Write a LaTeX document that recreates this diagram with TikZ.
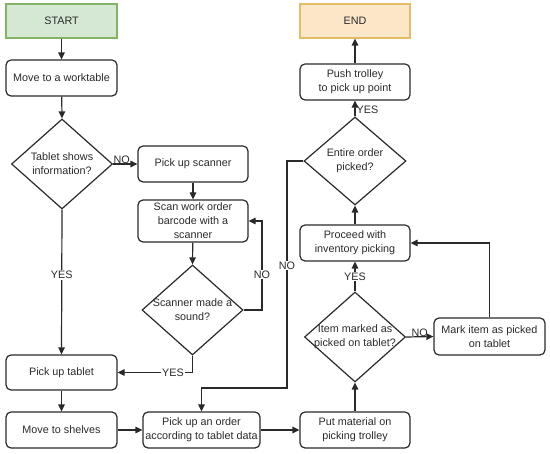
\documentclass[tikz,border=0pt]{standalone}
\usepackage{fontspec}
\setmainfont{Liberation Sans}
\usetikzlibrary{arrows.meta,shapes.geometric}
\definecolor{ln}{HTML}{2A2A2A}
\definecolor{startfill}{HTML}{D5E8D4}
\definecolor{startdraw}{HTML}{82B366}
\definecolor{endfill}{HTML}{FCE6C8}
\definecolor{enddraw}{HTML}{E2BC66}
\tikzset{
  box/.style={draw=ln, line width=1.2pt, rounded corners=5pt, align=center, inner sep=1pt, text=ln},
  term/.style={draw, line width=1.2pt, align=center, inner sep=1pt, text=ln},
  dia/.style={draw=ln, line width=1.2pt, shape=diamond, inner sep=0pt},
  dtext/.style={align=center, inner sep=0pt, text=ln},
  arr/.style={draw=ln, line width=1.2pt, -{Triangle[length=7pt,width=6.5pt]}},
  lbl/.style={fill=white, inner sep=1pt, text=ln},
}
\begin{document}
\begin{tikzpicture}[x=1pt,y=-1pt,font=\fontsize{10.8}{14}\selectfont]
\useasboundingbox (0,0) rectangle (550,454);
% terminals
\node[term, draw=startdraw, fill=startfill, minimum width=111pt, minimum height=34pt] (start) at (61.5,21) {START};
\node[term, draw=enddraw, fill=endfill, minimum width=110pt, minimum height=34pt] (end) at (355,21) {END};
% boxes
\node[box, minimum width=111pt, minimum height=36pt] (move) at (61.5,78) {Move to a worktable};
\node[box, minimum width=110pt, minimum height=36pt] (scanner) at (193,164) {Pick up scanner};
\node[box, minimum width=110pt, minimum height=42pt] (scan) at (193,221) {Scan work order\\barcode with a\\scanner};
\node[box, minimum width=111pt, minimum height=35pt] (tablet) at (61.5,372.5) {Pick up tablet};
\node[box, minimum width=111pt, minimum height=36pt] (shelves) at (61.5,430) {Move to shelves};
\node[box, minimum width=117pt, minimum height=36pt] (order) at (201.5,430) {Pick up an order\\according to tablet data};
\node[box, minimum width=110pt, minimum height=36pt] (put) at (355,430) {Put material on\\picking trolley};
\node[box, minimum width=111pt, minimum height=37pt] (mark) at (489.5,336.5) {Mark item as picked\\on tablet};
\node[box, minimum width=110pt, minimum height=36pt] (proceed) at (355,243) {Proceed with\\inventory picking};
\node[box, minimum width=110pt, minimum height=36pt] (push) at (355,82) {Push trolley\\to pick up point};
% diamonds
\node[dia, minimum width=101pt, minimum height=90pt] (d1) at (62,164) {};
\node[dtext] (d1t) at (d1.center) {Tablet shows\\information?};
\node[dia, minimum width=101pt, minimum height=90pt] (d2) at (192.5,310) {};
\node[dtext] (d2t) at (d2.center) {Scanner made a\\sound?};
\node[dia, minimum width=101pt, minimum height=90pt] (d3) at (355,337) {};
\node[dtext] (d3t) at (d3.center) {Item marked as\\picked on tablet?};
\node[dia, minimum width=102pt, minimum height=88pt] (d4) at (355,161) {};
\node[dtext] (d4t) at (d4.center) {Entire order\\picked?};
% coordinates
\coordinate (c2) at (262,310);
\coordinate (c4) at (287,388);
% connectors
\draw[arr] (start) -- (move);
\draw[arr] (move) -- (d1.north);
\draw[arr] (d1.east) -- node[pos=0.35, above=-1pt, text=ln, inner sep=1pt] (l1) {NO} (scanner.west);
\draw[arr] (d1.south) -- node[lbl, pos=0.45] (l2) {YES} (tablet.north);
\draw[arr] (scanner) -- (scan);
\draw[arr] (scan) -- (d2.north);
\draw[arr] (d2.east) -- (c2) |- node[lbl, pos=0.2] (l3) {NO} (scan.east);
\draw[arr] (d2.south) |- node[lbl, pos=0.63] (l4) {YES} (tablet.east);
\draw[arr] (tablet) -- (shelves);
\draw[arr] (shelves) -- (order);
\draw[arr] (order) -- (put);
\draw[arr] (put) -- (d3.south);
\draw[arr] (d3.north) -- node[lbl, pos=0.5] (l5) {YES} (proceed.south);
\draw[arr] (d3.east) -- node[pos=0.5, above=-1pt, text=ln, inner sep=1pt] (l6) {NO} (mark.west);
\draw[arr] (mark.north) |- (proceed.east);
\draw[arr] (proceed) -- (d4.south);
\draw[arr] (d4.north) -- node[right, pos=0.45, text=ln, inner sep=1pt] (l7) {YES} (push.south);
\draw[arr] (push) -- (end);
\draw[arr] (d4.west) -| node[lbl, pos=0.73] (l8) {NO} (c4) -| (order.north);
\end{tikzpicture}
\end{document}
